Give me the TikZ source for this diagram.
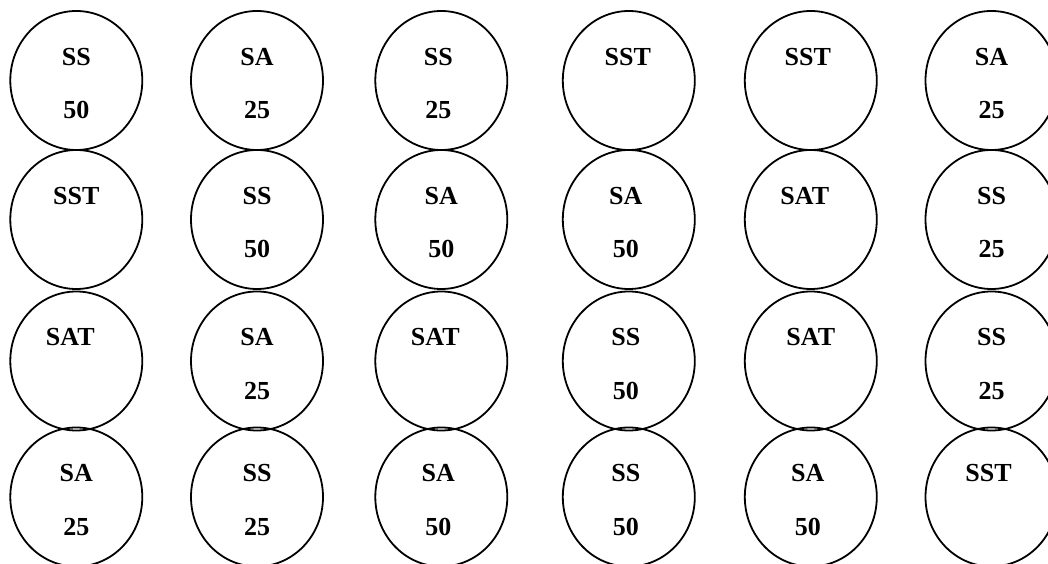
\documentclass[tikz,border=0pt]{standalone}
\usepackage{fontspec}
\setmainfont{Liberation Serif}
\usetikzlibrary{shapes.geometric}
\begin{document}
\begin{tikzpicture}[x=1pt,y=1pt,
  cell/.style={draw=black,line width=1.8pt,ellipse,minimum width=132pt,minimum height=139pt,inner sep=0pt},
  lab/.style={anchor=base,inner sep=0pt,font=\fontsize{26}{30}\selectfont\bfseries}]
\useasboundingbox (0,0) rectangle (1048,564);
\def\colx{{76.3,257,441.3,628.8,810.8,991.5}}
\def\rowy{{483.5,344.5,203,67}}
\foreach \r/\lst in {0/{SS/50/0,SA/25/0,SS/25/-3,SST/ /-1,SST/ /-3,SA/25/0},
                     1/{SST/ /0,SS/50/0,SA/50/0,SA/50/-3,SAT/ /-6,SS/25/0},
                     2/{SAT/ /-6,SA/25/0,SAT/ /-6,SS/50/-3,SAT/ /0,SS/25/0},
                     3/{SA/25/0,SS/25/0,SA/50/-3,SS/50/-3,SA/50/-3,SST/ /-3}}{
  \foreach \t/\n/\dx [count=\c from 0] in \lst {
    \pgfmathsetmacro{\xx}{\colx[\c]}
    \pgfmathsetmacro{\yy}{\rowy[\r]}
    \node[cell] (c\r\c) at (\xx,\yy) {};
    \node[lab] (t\r\c) at ([xshift=\dx pt,yshift=15pt]c\r\c.center) {\t};
    \node[lab] (n\r\c) at ([xshift=\dx pt,yshift=-38.5pt]c\r\c.center) {\n};
  }
}
\end{tikzpicture}
\end{document}
